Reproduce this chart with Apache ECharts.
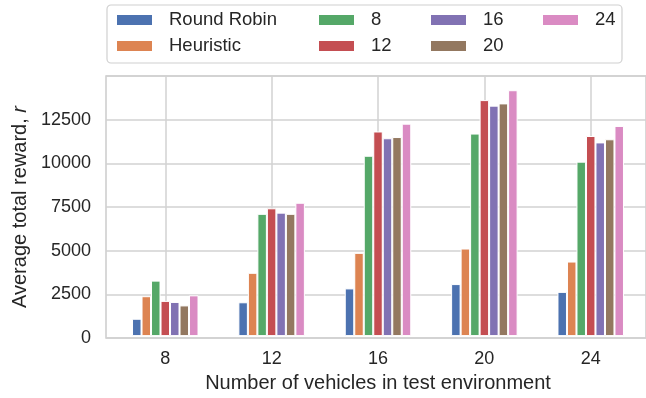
<!DOCTYPE html>
<html>
<head>
<meta charset="utf-8">
<script src="https://cdn.jsdelivr.net/npm/echarts@6/dist/echarts.min.js"></script>
<style>
html,body{margin:0;padding:0;background:#fff;}
#chart{width:646px;height:398px;}
</style>
</head>
<body>
<div id="chart"></div>
<script>
const categories = ['8', '12', '16', '20', '24'];
const seriesNames = ['Round Robin', 'Heuristic', '8', '12', '16', '20', '24'];
const roundRobin = [1000, 1950, 2750, 3000, 2550];
const heuristic  = [2300, 3650, 4800, 5050, 4300];
const agent8     = [3200, 7050, 10400, 11680, 10060];
const agent12    = [2030, 7370, 11800, 13610, 11540];
const agent16    = [1970, 7120, 11410, 13290, 11170];
const agent20    = [1770, 7050, 11480, 13420, 11350];
const agent24    = [2350, 7690, 12250, 14180, 12120];
const yTicks = [0, 2500, 5000, 7500, 10000, 12500];

const values = [roundRobin, heuristic, agent8, agent12, agent16, agent20, agent24];
const colors = ['#4C72B0', '#DD8452', '#55A868', '#C44E52', '#8172B3', '#937860', '#DA8BC3'];
const FONT = 'Liberation Sans, Arial, sans-serif';
const TXT = '#262626';
const GRIDC = '#d2d2d2';

// auxiliary axis points: boundaries and centres of categories (centres get gridlines)
const auxPoints = [''];
categories.forEach(c => { auxPoints.push(c); auxPoints.push(''); });

const chart = echarts.init(document.getElementById('chart'), null, {renderer: 'canvas'});

const legendBase = {
  orient: 'vertical', top: 10.5, itemWidth: 37, itemHeight: 12, itemGap: 7,
  padding: 0, icon: 'rect', selectedMode: false,
  textStyle: {fontFamily: FONT, fontSize: 18.5, color: TXT, lineHeight: 19, padding: [0, 0, 0, 11]}
};

const option = {
  animation: false,
  backgroundColor: '#fff',
  textStyle: {fontFamily: FONT},
  graphic: [{
    type: 'rect', z: 0,
    shape: {x: 107, y: 5, width: 515, height: 58, r: 4},
    style: {fill: '#fff', stroke: '#d0d0d0', lineWidth: 1.2}
  }],
  legend: [
    Object.assign({}, legendBase, {left: 115, data: seriesNames.slice(0, 2)}),
    Object.assign({}, legendBase, {left: 317, data: seriesNames.slice(2, 4)}),
    Object.assign({}, legendBase, {left: 429, data: seriesNames.slice(4, 6)}),
    Object.assign({}, legendBase, {left: 541, data: seriesNames.slice(6, 7)})
  ],
  grid: [
    {left: 112.1, right: 2.1, top: 76, bottom: 60},
    {left: 106, right: -4, top: 76, bottom: 60, show: true, backgroundColor: 'transparent',
     borderColor: '#cccccc', borderWidth: 1.5}
  ],
  xAxis: [
    {
      type: 'category', gridIndex: 0, data: categories,
      axisLine: {show: false}, axisTick: {show: false}, splitLine: {show: false},
      axisLabel: {fontFamily: FONT, fontSize: 18, color: TXT, margin: 14},
      name: 'Number of vehicles in test environment', nameLocation: 'middle', nameGap: 35,
      nameTextStyle: {fontFamily: FONT, fontSize: 20, color: TXT}
    },
    {
      type: 'category', gridIndex: 0, data: auxPoints, boundaryGap: false,
      axisLine: {show: false}, axisTick: {show: false}, axisLabel: {show: false},
      splitLine: {show: true, interval: function (i) { return i % 2 === 1; },
                  lineStyle: {color: GRIDC, width: 1.5}}
    },
    {type: 'value', gridIndex: 1, show: false, min: 0, max: 1}
  ],
  yAxis: [
    {type: 'value', gridIndex: 0, min: 0, max: 15000, show: false, splitLine: {show: false}},
    {
      type: 'value', gridIndex: 1, min: 0, max: 15000, interval: 2500,
      axisLine: {show: false}, axisTick: {show: false},
      axisLabel: {fontFamily: FONT, fontSize: 18, color: TXT, margin: 15, showMaxLabel: false,
                  formatter: function (v) { return yTicks.indexOf(v) >= 0 ? String(v) : ''; }},
      splitLine: {show: true, lineStyle: {color: GRIDC, width: 1.5}},
      name: 'Average total reward, {i|r}', nameLocation: 'middle', nameGap: 76,
      nameTextStyle: {fontFamily: FONT, fontSize: 20, color: TXT,
                      rich: {i: {fontFamily: FONT, fontSize: 20, fontStyle: 'italic', color: TXT}}}
    }
  ],
  series: seriesNames.map((n, k) => ({
    name: n, type: 'bar', xAxisIndex: 0, yAxisIndex: 0,
    data: values[k], barWidth: 9.5, barGap: '0%',
    itemStyle: {color: colors[k], borderColor: '#ffffff', borderWidth: 1},
    emphasis: {disabled: true}
  }))
};
chart.setOption(option);
</script>
</body>
</html>
